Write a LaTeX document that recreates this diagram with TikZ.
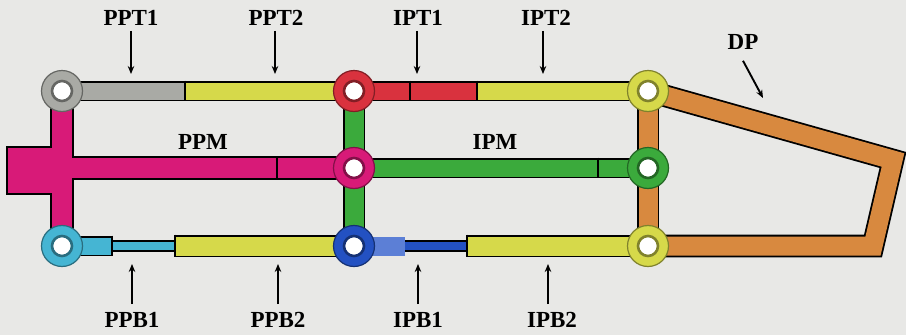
\documentclass[tikz,border=0pt]{standalone}
\usepackage{fontspec}
\setmainfont{Liberation Serif}
\usetikzlibrary{arrows.meta}
\definecolor{bgc}{HTML}{E8E8E6}
\definecolor{grayc}{HTML}{A9AAA5}
\definecolor{yelc}{HTML}{D6D94A}
\definecolor{redc}{HTML}{D9323E}
\definecolor{pinkc}{HTML}{D81A78}
\definecolor{greenc}{HTML}{3BAA3C}
\definecolor{cyanc}{HTML}{45B5D3}
\definecolor{bluec}{HTML}{2351C2}
\definecolor{lbluec}{HTML}{5C7FD6}
\definecolor{orangec}{HTML}{D8893F}
\begin{document}
\begin{tikzpicture}[x=1pt,y=-1pt,
  bar/.style={line width=1.8pt, draw=black, double=#1, double distance=17pt},
  widebar/.style={line width=1.8pt, draw=black, double=#1, double distance=19pt},
  thinbar/.style={line width=1.8pt, draw=black, double=#1, double distance=7.5pt},
  junc/.style={circle, minimum size=41pt, inner sep=0pt, fill=#1,
    draw=#1!60!black, line width=1.2pt,
    path picture={\draw[line width=2.6pt, fill=white]
      (path picture bounding box.center) circle (10pt);}},
  divider/.style={line width=1.6pt},
  lab/.style={font=\fontsize{23}{23}\selectfont\bfseries, inner sep=0pt},
  ptr/.style={line width=1.9pt, -{Stealth[length=8pt,width=6.5pt]}}]

\useasboundingbox (0,0) rectangle (906,335);
\fill[bgc] (0,0) rectangle (906,335);

% junction positions
\coordinate (G) at (62,91);   \coordinate (R) at (354,91);  \coordinate (Y1) at (648,91);
\coordinate (PM) at (354,168); \coordinate (GM) at (648,168);
\coordinate (C) at (62,246);  \coordinate (B) at (354,246); \coordinate (Y3) at (648,246);

% break points along the bars
\coordinate (t1) at (185,91); \coordinate (t2) at (410,91); \coordinate (t3) at (477,91);
\coordinate (m1) at (277,168); \coordinate (m2) at (598,168);
\coordinate (b1) at (112,246); \coordinate (b2) at (175,246); \coordinate (b3) at (467,246);
\coordinate (hl) at (62,168);
\coordinate (blkA) at (8,148); \coordinate (blkB) at (56,193);
\coordinate (dp1) at (893,160); \coordinate (dp2) at (873,246);

% magenta cross: outline pass, then fill pass
\draw[black, line width=23.6pt] (G) -- (C);
\draw[black, line width=23.6pt] (hl) -- (PM);
\draw[black, line width=3.2pt] (blkA) rectangle (blkB);
\draw[pinkc, line width=20pt] (G) -- (C);
\draw[pinkc, line width=20pt] (hl) -- (PM);
\fill[pinkc] (blkA) rectangle (blkB);
\draw[divider] (m1) +(0,-10) -- +(0,10);

% green and orange verticals, orange loop
\draw[widebar=greenc] (R) -- (B);
\draw[widebar=orangec] (Y1) -- (Y3);
\draw[widebar=orangec, line join=miter] (Y1) -- (dp1) -- (dp2) -- (Y3);

% top bar
\draw[bar=grayc] (G) -- (t1);
\draw[bar=yelc] (t1) -- (R);
\draw[bar=redc] (R) -- (t3);
\draw[bar=yelc] (t3) -- (Y1);
\foreach \p in {t1,t2,t3} \draw[divider] (\p) +(0,-10.3) -- +(0,10.3);

% middle bar
\draw[bar=greenc] (PM) -- (GM);
\draw[divider] (m2) +(0,-10.3) -- +(0,10.3);

% bottom bar
\draw[bar=cyanc] (C) -- (b1);
\draw[thinbar=cyanc] (b1) -- (b2);
\draw[widebar=yelc] (b2) -- (B);
\draw[thinbar=bluec] (B) -- (b3);
\fill[lbluec] (372,237) rectangle (405,256);
\draw[widebar=yelc] (b3) -- (Y3);
\draw[divider] (b1) +(0,-10.3) -- +(0,10.3);
\foreach \p in {b2,b3} \draw[divider] (\p) +(0,-11.3) -- +(0,11.3);

% junctions
\node[junc=grayc] (nG) at (G) {};
\node[junc=redc] (nR) at (R) {};
\node[junc=yelc] (nY1) at (Y1) {};
\node[junc=pinkc] (nPM) at (PM) {};
\node[junc=greenc] (nGM) at (GM) {};
\node[junc=cyanc] (nC) at (C) {};
\node[junc=bluec] (nB) at (B) {};
\node[junc=yelc] (nY3) at (Y3) {};

% labels
\node[lab] (lPPT1) at (131,18) {PPT1};
\node[lab] (lPPT2) at (276,18) {PPT2};
\node[lab] (lIPT1) at (418,18) {IPT1};
\node[lab] (lIPT2) at (546,18) {IPT2};
\node[lab] (lDP) at (743,42) {DP};
\node[lab] (lPPM) at (203,142) {PPM};
\node[lab] (lIPM) at (495,142) {IPM};
\node[lab] (lPPB1) at (132,320) {PPB1};
\node[lab] (lPPB2) at (278,320) {PPB2};
\node[lab] (lIPB1) at (418,320) {IPB1};
\node[lab] (lIPB2) at (552,320) {IPB2};

% arrow tips
\coordinate (aPPT1) at (131,74); \coordinate (aPPT2) at (275,74);
\coordinate (aIPT1) at (417,74); \coordinate (aIPT2) at (543,74);
\coordinate (aDP) at (763,98);
\coordinate (aPPB1) at (132,264); \coordinate (aPPB2) at (278,264);
\coordinate (aIPB1) at (418,264); \coordinate (aIPB2) at (548,264);

\foreach \n in {PPT1,PPT2,IPT1,IPT2}
  \draw[ptr] ([yshift=-5pt]l\n.south -| a\n) -- (a\n);
\foreach \n in {PPB1,PPB2,IPB1,IPB2}
  \draw[ptr] ([yshift=8pt]l\n.north -| a\n) -- (a\n);
\draw[ptr] ([yshift=-11pt]lDP.south) -- (aDP);
\end{tikzpicture}
\end{document}
